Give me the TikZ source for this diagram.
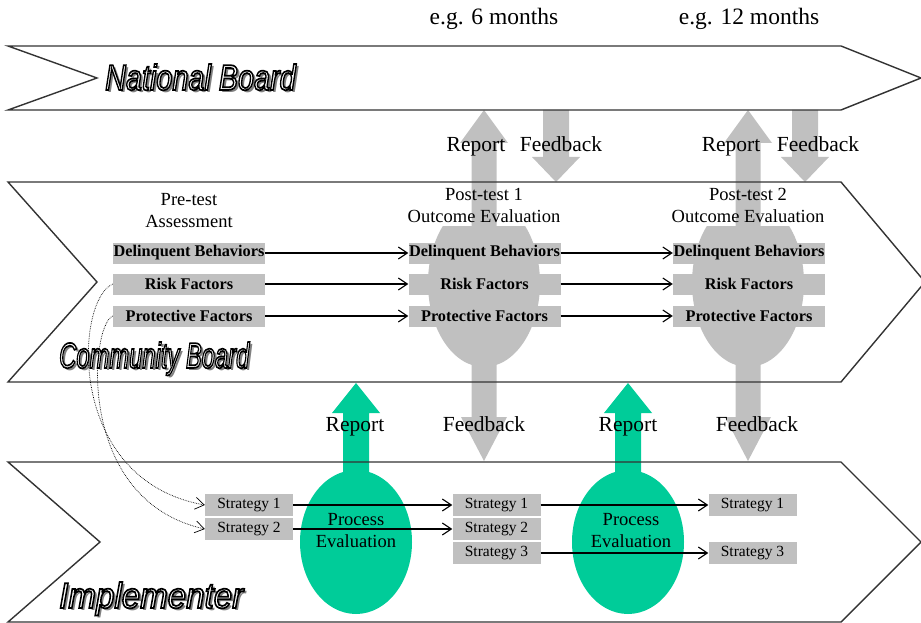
\documentclass[tikz,border=0pt]{standalone}
\usepackage{graphicx}
\usepackage{fontspec}
\setmainfont{Liberation Serif}
\newfontfamily\boardfont{Liberation Sans}
\usetikzlibrary{arrows.meta, positioning}

\definecolor{evalgray}{RGB}{192,192,192}
\definecolor{procgreen}{RGB}{0,204,153}

\tikzset{
  band/.style={line width=1.4pt, draw=black!80, line join=miter},
  factor/.style={fill=evalgray, minimum width=152, minimum height=21, inner sep=0pt,
    font=\bfseries\fontsize{16.3}{18}\selectfont},
  strategy/.style={fill=evalgray, minimum width=88, minimum height=22, inner sep=0pt,
    font=\fontsize{15.5}{17}\selectfont},
  flow/.style={-{Straight Barb[length=9pt,width=12pt]}, line width=1.1pt},
  dotflow/.style={flow, line width=0.7pt, densely dotted},
  caption/.style={anchor=base, inner sep=0pt, font=\fontsize{18.5}{21}\selectfont},
  tag/.style={anchor=base, inner sep=0pt, font=\fontsize{21.5}{24}\selectfont},
  period/.style={anchor=base, inner sep=0pt, font=\fontsize{23.5}{26}\selectfont},
  boardtext/.style={anchor=base west, inner sep=0pt,
    font=\boardfont\itshape\fontsize{36}{40}\selectfont}
}

% white letters with a black outline (fill and stroke render mode)
\newcommand{\outlined}[1]{%
  \special{pdf:literal direct 2 Tr 1.7 w 0 0 0 RG 1 1 1 rg}#1%
  \special{pdf:literal direct 0 Tr 0 0 0 rg}}

% board name with a drop shadow: name, base point, x-scale, text
\newcommand{\boardtitle}[4]{%
  \node[boardtext, text=black!50, shift={(2.5,2.5)}] at #2 {\scalebox{#3}[1]{#4}};
  \node[boardtext] (#1) at #2 {\scalebox{#3}[1]{\outlined{#4}}};
}

\begin{document}
\begin{tikzpicture}[x=1pt, y=-1pt]
  \useasboundingbox (0,0) rectangle (921,623);

  % outcome evaluations (top cut off under the captions)
  \begin{scope}
    \clip (0,226) rectangle (921,400);
    \foreach \c in {484,748}
      \fill[evalgray] (\c,283) ellipse [x radius=56, y radius=84];
  \end{scope}

  % report arrows up to the national board
  \foreach \c in {484,748}
    \fill[evalgray] ({\c-12.5},260) -- ({\c-12.5},143) -- ({\c-24},143) -- (\c,110)
      -- ({\c+24},143) -- ({\c+12.5},143) -- ({\c+12.5},260) -- cycle;

  % feedback from the national board
  \foreach \f in {556,805}
    \fill[evalgray] ({\f-13},110) -- ({\f-13},157) -- ({\f-24},157) -- (\f,182)
      -- ({\f+24},157) -- ({\f+13},157) -- ({\f+13},110) -- cycle;

  % feedback down to the implementer
  \foreach \c in {484,748}
    \fill[evalgray] ({\c-12.5},300) -- ({\c-12.5},417) -- ({\c-23},417) -- (\c,461)
      -- ({\c+23},417) -- ({\c+12.5},417) -- ({\c+12.5},300) -- cycle;

  % process evaluations and their reports
  \foreach \c in {356,628}{
    \fill[procgreen] (\c,542) ellipse [x radius=56, y radius=72];
    \fill[procgreen] ({\c-13},520) -- ({\c-13},413) -- ({\c-24},413) -- (\c,383)
      -- ({\c+24},413) -- ({\c+13},413) -- ({\c+13},520) -- cycle;
  }

  % the three bands
  \draw[band] (8,46) -- (841,46) -- (921,78) -- (841,110) -- (8,110) -- (97,78) -- cycle;
  \draw[band] (8,182) -- (841,182) -- (925,282) -- (841,382) -- (8,382) -- (97,282) -- cycle;
  \draw[band] (8,462) -- (841,462) -- (921,542) -- (841,622) -- (8,622) -- (100,542) -- cycle;

  % board names
  \boardtitle{national}{(105,90)}{0.80}{National Board}
  \boardtitle{community}{(59,368)}{0.66}{Community Board}
  \boardtitle{implementer}{(59,608)}{0.92}{Implementer}

  % time points
  \node[period] (month6) at (494,25) {e.g. 6 months};
  \node[period] (month12) at (749,25) {e.g. 12 months};

  % report / feedback labels
  \node[tag] (rep1) at (476,152) {Report};
  \node[tag] (fb1) at (561,152) {Feedback};
  \node[tag] (rep2) at (731,152) {Report};
  \node[tag] (fb2) at (818,152) {Feedback};
  \node[tag] (rep3) at (355,431) {Report};
  \node[tag] (fb3) at (484,431) {Feedback};
  \node[tag] (rep4) at (628,431) {Report};
  \node[tag] (fb4) at (757,431) {Feedback};

  % captions
  \node[caption] (pre1) at (189,205) {Pre-test};
  \node[caption] (pre2) at (189,227) {Assessment};
  \node[caption] (post1) at (484,200) {Post-test 1};
  \node[caption] (out1) at (484,222) {Outcome Evaluation};
  \node[caption] (post2) at (748,200) {Post-test 2};
  \node[caption] (out2) at (748,222) {Outcome Evaluation};

  % measured factors
  \foreach \c/\n in {189/0,484.5/1,749/2}{
    \node[factor] (db\n) at (\c,253) {Delinquent Behaviors};
    \node[factor] (rf\n) at (\c,284) {Risk Factors};
    \node[factor] (pf\n) at (\c,316) {Protective Factors};
  }
  \foreach \a/\b in {0/1,1/2}
    \foreach \r in {db,rf,pf}
      \draw[flow] (\r\a) -- (\r\b);

  % strategies
  \node[strategy] (s1a) at (249,505) {Strategy 1};
  \node[strategy] (s2a) at (249,529) {Strategy 2};
  \node[strategy] (s1b) at (496.5,505) {Strategy 1};
  \node[strategy] (s2b) at (496.5,529) {Strategy 2};
  \node[strategy] (s3b) at (496.5,553) {Strategy 3};
  \node[strategy] (s1c) at (752.5,505) {Strategy 1};
  \node[strategy] (s3c) at (752.5,553) {Strategy 3};

  \draw[flow] (s1a) -- (s1b);
  \draw[flow] (s2a) -- (s2b);
  \draw[flow] (s1b) -- (s1c);
  \draw[flow] (s3b) -- (s3c);

  \draw[dotflow] (rf0.west) .. controls (75,300) and (65,480) .. (s1a.west);
  \draw[dotflow] (pf0.west) .. controls (90,325) and (75,500) .. (s2a.west);

  % process evaluation labels
  \node[caption] (proc1) at (356,525) {Process};
  \node[caption] (eval1) at (356,547) {Evaluation};
  \node[caption] (proc2) at (631,525) {Process};
  \node[caption] (eval2) at (631,547) {Evaluation};
\end{tikzpicture}
\end{document}
